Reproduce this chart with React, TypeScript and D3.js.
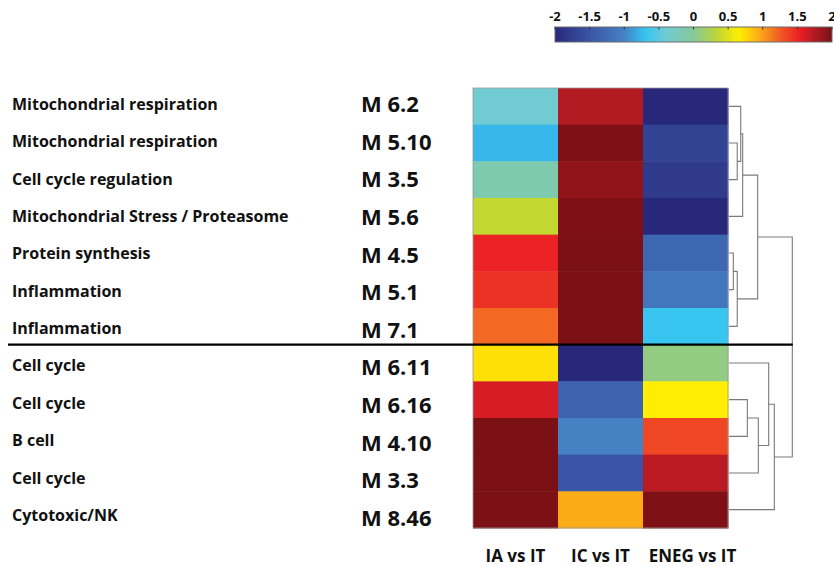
import React from "react";
import * as d3 from "d3";

// modules (rows, top to bottom)
const functions = [
  "Mitochondrial respiration",
  "Mitochondrial respiration",
  "Cell cycle regulation",
  "Mitochondrial Stress / Proteasome",
  "Protein synthesis",
  "Inflammation",
  "Inflammation",
  "Cell cycle",
  "Cell cycle",
  "B cell",
  "Cell cycle",
  "Cytotoxic/NK",
];
const modules = ["M 6.2", "M 5.10", "M 3.5", "M 5.6", "M 4.5", "M 5.1", "M 7.1", "M 6.11", "M 6.16", "M 4.10", "M 3.3", "M 8.46"];
const comparisons = ["IA vs IT", "IC vs IT", "ENEG vs IT"];

// fold change (log scale), one array per comparison
const iaVsIt = [-0.4, -0.76, -0.15, 0.37, 1.52, 1.45, 1.2, 0.72, 1.62, 2, 2, 2];
const icVsIt = [1.75, 1.98, 1.9, 1.98, 2, 2, 2, -2, -1.35, -1.0, -1.5, 0.95];
const enegVsIt = [-2, -1.7, -1.8, -2, -1.3, -1.12, -0.68, 0.08, 0.66, 1.35, 1.72, 1.98];
const seriesValues = [iaVsIt, icVsIt, enegVsIt];

// colorbar
const colorTicks = [-2, -1.5, -1, -0.5, 0, 0.5, 1, 1.5, 2];
const colorStops = [-2, -1.5, -1, -0.7, -0.4, 0, 0.35, 0.65, 0.95, 1.25, 1.55, 1.8, 2];
const colorRange = ["#27287a", "#3a55a6", "#4582c4", "#34c4f2", "#70ccd2", "#86c89a", "#c0d636", "#fff000", "#fbab18", "#f15a24", "#ea1d25", "#a31a20", "#7b1015"];

// row dendrogram linkage: [nodeA, nodeB, height]; new nodes numbered from 12
const linkage: [number, number, number][] = [
  [1, 2, 0.13],
  [0, 12, 0.185],
  [13, 3, 0.216],
  [4, 5, 0.068],
  [15, 6, 0.13],
  [14, 16, 0.453],
  [8, 9, 0.29],
  [18, 10, 0.463],
  [7, 19, 0.627],
  [20, 11, 0.716],
  [17, 21, 1.0],
];
const groupSplit = 7; // line drawn between the two top-level clusters

const W = 834;
const H = 567;
const font = "'Open Sans', sans-serif";

export default function App() {
  const rows = d3.range(modules.length);
  const x = d3.scaleBand<string>().domain(comparisons).range([473, 728]);
  const y = d3.scaleBand<number>().domain(rows).range([88, 528]);
  const yFn = d3.scalePoint<number>().domain(rows).range([109.8, 521]);
  const yMod = d3.scalePoint<number>().domain(rows).range([112, 526]);
  const color = d3.scaleLinear<string>().domain(colorStops).range(colorRange).interpolate(d3.interpolateRgb).clamp(true);
  const cb = d3.scaleLinear().domain([-2, 2]).range([555, 832]);
  const dx = d3.scaleLinear().domain([0, 1]).range([729, 792.3]);

  // dendrogram node positions
  const nodeY: number[] = rows.map((i) => (y(i) as number) + y.bandwidth() / 2);
  const nodeH: number[] = rows.map(() => 0);
  const links: string[] = [];
  linkage.forEach(([a, b, h]) => {
    const ya = nodeY[a];
    const yb = nodeY[b];
    const p = d3.path();
    p.moveTo(dx(nodeH[a]), ya);
    p.lineTo(dx(h), ya);
    p.lineTo(dx(h), yb);
    p.lineTo(dx(nodeH[b]), yb);
    links.push(p.toString());
    nodeY.push((ya + yb) / 2);
    nodeH.push(h);
  });

  const gradStops = d3.range(0, 1.0001, 1 / 60);
  const sepY = y(groupSplit) as number;

  return (
    <svg width={W} height={H} style={{ position: "absolute", left: 0, top: 0, background: "#fff" }}>
      <defs>
        <linearGradient id="cbar" x1="0" x2="1" y1="0" y2="0">
          {gradStops.map((t) => (
            <stop key={t} offset={t} stopColor={color(-2 + 4 * t)} />
          ))}
        </linearGradient>
      </defs>

      {/* colorbar */}
      <rect x={cb(-2)} y={27} width={cb(2) - cb(-2)} height={15} fill="url(#cbar)" stroke="#6d6d6d" strokeWidth={1} />
      {colorTicks.map((t) => (
        <g key={t}>
          <line x1={cb(t)} x2={cb(t)} y1={27} y2={29.5} stroke="#333" strokeWidth={1} />
          <text x={cb(t)} y={21} textAnchor="middle" fontFamily={font} fontWeight={700} fontSize={13} fill="#111">
            {t}
          </text>
        </g>
      ))}

      {/* heatmap */}
      {comparisons.map((c, j) =>
        seriesValues[j].map((v, i) => (
          <rect key={c + i} x={x(c)} y={y(i)} width={x.bandwidth() + 0.5} height={y.bandwidth() + 0.5} fill={color(v)} />
        ))
      )}
      <rect x={473} y={88} width={255} height={440} fill="none" stroke="#9a9a9a" strokeWidth={0.8} />

      {/* labels */}
      {rows.map((i) => (
        <g key={modules[i]}>
          <text x={12} y={yFn(i)} fontFamily={font} fontWeight={700} fontSize={16} fill="#111">
            {functions[i]}
          </text>
          <text x={361} y={yMod(i)} fontFamily={font} fontWeight={700} fontSize={22} fill="#111">
            {modules[i]}
          </text>
        </g>
      ))}
      {comparisons.map((c) => (
        <text key={c} x={(x(c) as number) + x.bandwidth() / 2 + (c === "ENEG vs IT" ? 7 : 0)} y={562} textAnchor="middle" fontFamily={font} fontWeight={700} fontSize={17} fill="#111">
          {c}
        </text>
      ))}

      {/* dendrogram */}
      {links.map((d, i) => (
        <path key={i} d={d} fill="none" stroke="#7a7a7a" strokeWidth={1.1} />
      ))}

      {/* cluster separator */}
      <line x1={8} x2={dx(1) + 0.5} y1={sepY} y2={sepY} stroke="#000" strokeWidth={2.2} />
    </svg>
  );
}
